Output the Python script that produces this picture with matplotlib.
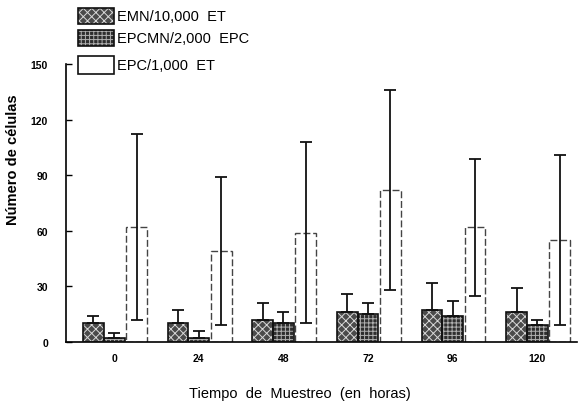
import matplotlib
matplotlib.use("Agg")
import matplotlib.pyplot as plt
import matplotlib.patches as mpatches
import numpy as np

plt.rcParams['font.family'] = ['Liberation Sans', 'DejaVu Sans']

hours = ["0", "24", "48", "72", "96", "120"]
emn_mean = [10, 10, 12, 16, 17, 16]
emn_err = [4, 7, 9, 10, 15, 13]
epcmn_mean = [2, 2, 10, 15, 14, 9]
epcmn_err = [3, 4, 6, 6, 8, 3]
epc_mean = [62, 49, 59, 82, 62, 55]
epc_err = [50, 40, 49, 54, 37, 46]
labels = ["EMN/10,000  ET", "EPCMN/2,000  EPC", "EPC/1,000  ET"]

W, H = 579, 402
fig = plt.figure(figsize=(W/100, H/100), dpi=100)
ax = fig.add_axes([66/W, 1-343/H, (577-66)/W, (343-65)/H])

x = np.arange(len(hours))
bw = 0.245
plt.rcParams['hatch.linewidth'] = 0.7

emn_style = dict(facecolor='#4a4a4a', edgecolor='#d8d8d8', hatch='xxxx', linewidth=0)
epcmn_style = dict(facecolor='#2e2e2e', edgecolor='#b0b0b0', hatch='++++', linewidth=0)
epc_style = dict(facecolor='white', edgecolor='#444444', linewidth=1.0, linestyle=(0, (5, 2)))

ax.bar(x - bw, emn_mean, bw, zorder=2, **emn_style)
ax.bar(x - bw, emn_mean, bw, facecolor='none', edgecolor='#111111', linewidth=1.2, zorder=3)
ax.bar(x, epcmn_mean, bw, zorder=2, **epcmn_style)
ax.bar(x, epcmn_mean, bw, facecolor='none', edgecolor='#111111', linewidth=1.2, zorder=3)
ax.bar(x + bw + 0.02, epc_mean, bw, zorder=2, **epc_style)

ek = dict(fmt='none', ecolor='#111111', elinewidth=1.3, capsize=4, capthick=1.3, zorder=4)
ax.errorbar(x - bw, emn_mean, yerr=[np.zeros(6), emn_err], **ek)
ax.errorbar(x, epcmn_mean, yerr=[np.zeros(6), epcmn_err], **ek)
ax.errorbar(x + bw + 0.02, epc_mean, yerr=epc_err, **ek)

ax.set_xlim(-0.57, 5.47)
ax.set_ylim(0, 150)
ax.set_yticks([0, 30, 60, 90, 120, 150])
ax.set_xticks(x)
ax.set_xticklabels(hours)
for s in ['top', 'right']:
    ax.spines[s].set_visible(False)
ax.spines['left'].set_linewidth(1.2)
ax.spines['bottom'].set_linewidth(1.2)
ax.tick_params(axis='y', direction='in', length=4, width=1, pad=13, labelsize=7.5)
ax.tick_params(axis='x', length=0, pad=8, labelsize=7.5)
for t in ax.get_xticklabels() + ax.get_yticklabels():
    t.set_fontweight('bold')

fig.text(13/W, 1-160/H, "Número de células", rotation=90, ha='center', va='center',
         fontsize=10.5, fontweight='bold')
fig.text(300/W, 1-394/H, "Tiempo  de  Muestreo  (en  horas)", ha='center', va='center',
         fontsize=10.5)

# legend (manual placement)
styles = [emn_style, epcmn_style, dict(facecolor='white', linewidth=0)]
boxes = [(9, 25), (31, 47), (57, 75)]
for (y0, y1), st, lab in zip(boxes, styles, labels):
    fig.patches.append(mpatches.Rectangle((78/W, 1-y1/H), (114-78)/W, (y1-y0)/H,
                                          transform=fig.transFigure, **st))
    fig.patches.append(mpatches.Rectangle((78/W, 1-y1/H), (114-78)/W, (y1-y0)/H,
                                          transform=fig.transFigure, facecolor='none',
                                          edgecolor='#111111', linewidth=1.2))
    fig.text(117/W, 1-((y0+y1)/2)/H, lab, ha='left', va='center', fontsize=10.5)

fig.savefig("out.png", dpi=100)
